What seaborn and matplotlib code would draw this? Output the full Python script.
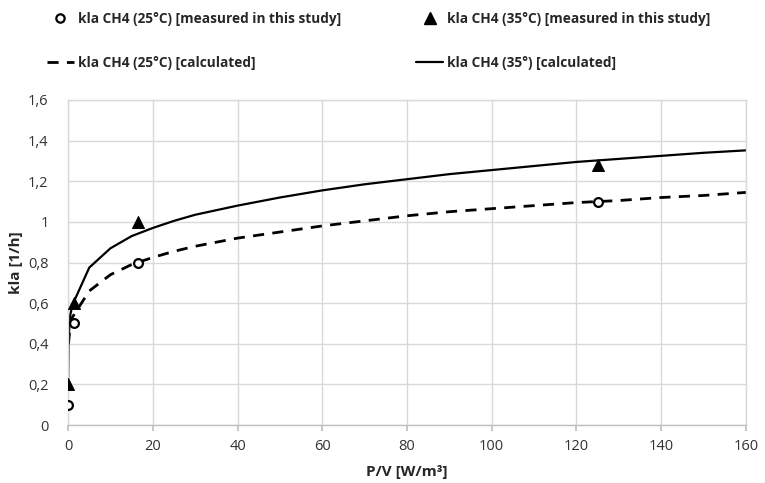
import pandas as pd
import seaborn as sns
import matplotlib.pyplot as plt
from matplotlib.lines import Line2D

# measured points
pv_meas = [0, 1.5, 16.5, 125]
kla_meas_25 = [0.1, 0.5, 0.8, 1.1]
kla_meas_35 = [0.2, 0.6, 1.0, 1.28]

# calculated curves
pv_calc_25 = [0.1, 0.5, 1, 5, 10, 15, 20, 25, 30, 40, 50, 60, 70, 80, 90, 100, 110, 120, 130, 140, 150, 160]
kla_calc_25 = [0.40, 0.49, 0.53, 0.66, 0.74, 0.79, 0.825, 0.855, 0.88, 0.92, 0.95, 0.98, 1.005, 1.03,
               1.05, 1.065, 1.08, 1.095, 1.105, 1.12, 1.13, 1.145]
pv_calc_35 = [0, 0.1, 0.5, 1, 5, 10, 15, 20, 25, 30, 40, 50, 60, 70, 80, 90, 100, 110, 120, 130, 140, 150, 160]
kla_calc_35 = [0.2, 0.42, 0.54, 0.59, 0.775, 0.87, 0.93, 0.97, 1.005, 1.035, 1.08, 1.12, 1.155, 1.185,
               1.21, 1.235, 1.255, 1.275, 1.295, 1.31, 1.325, 1.34, 1.352]

y_ticks = [0, 0.2, 0.4, 0.6, 0.8, 1.0, 1.2, 1.4, 1.6]
y_labels = ["0", "0,2", "0,4", "0,6", "0,8", "1", "1,2", "1,4", "1,6"]
x_ticks = [0, 20, 40, 60, 80, 100, 120, 140, 160]

sns.set_theme(style="white")
plt.rcParams['font.family'] = ['Open Sans', 'DejaVu Sans']

fig = plt.figure(figsize=(7.65, 4.83), dpi=100)
ax = fig.add_axes([0.089, 0.12, 0.886, 0.673])

grid_col = "#d9d9d9"

c25 = pd.DataFrame({"pv": pv_calc_25, "kla": kla_calc_25})
c35 = pd.DataFrame({"pv": pv_calc_35, "kla": kla_calc_35})
m = pd.DataFrame({"pv": pv_meas, "k25": kla_meas_25, "k35": kla_meas_35})

sns.lineplot(data=c25, x="pv", y="kla", ax=ax, color="black", lw=2.0,
             linestyle=(0, (4, 3)), sort=False)
sns.lineplot(data=c35, x="pv", y="kla", ax=ax, color="black", lw=1.6, sort=False)
sns.scatterplot(data=m, x="pv", y="k25", ax=ax, marker="o", s=40,
                facecolor="white", edgecolor="black", linewidth=1.6, zorder=5)
sns.scatterplot(data=m, x="pv", y="k35", ax=ax, marker="^", s=75,
                color="black", edgecolor="black", zorder=5)

ax.set_xlim(0, 160)
ax.set_ylim(0, 1.6)
ax.set_xticks(x_ticks)
ax.set_yticks(y_ticks)
ax.set_yticklabels(y_labels)
ax.grid(True, color=grid_col, lw=1)
ax.set_axisbelow(True)
for s in ax.spines.values():
    s.set_color(grid_col)
    s.set_linewidth(1)
ax.spines["bottom"].set_color("#bfbfbf")
ax.tick_params(axis="x", bottom=True, length=4, color="#bfbfbf", labelsize=10.5, pad=6,
               labelcolor="#333333")
ax.tick_params(axis="y", left=False, labelsize=10.5, pad=8, labelcolor="#333333")
ax.set_xlabel("P/V [W/m³]", fontsize=11, fontweight="bold", labelpad=8)
ax.set_ylabel("kla [1/h]", fontsize=11, fontweight="bold", labelpad=4)

handles = [
    Line2D([], [], marker="o", ls="none", mfc="white", mec="black", mew=1.6, ms=6),
    Line2D([], [], color="black", lw=2.0, ls=(0, (4, 3))),
    Line2D([], [], marker="^", ls="none", color="black", ms=8),
    Line2D([], [], color="black", lw=1.6),
]
labels = [
    "kla CH4 (25°C) [measured in this study]",
    "kla CH4 (25°C) [calculated]",
    "kla CH4 (35°C) [measured in this study]",
    "kla CH4 (35°) [calculated]",
]
fig.legend(handles, labels, loc="upper left", bbox_to_anchor=(0.045, 1.0), ncol=2,
           frameon=False, handlelength=2.0, handletextpad=0.3, labelspacing=2.15,
           columnspacing=5.5, prop={"weight": "bold", "size": 9.8})

fig.savefig("out.png", dpi=100)
